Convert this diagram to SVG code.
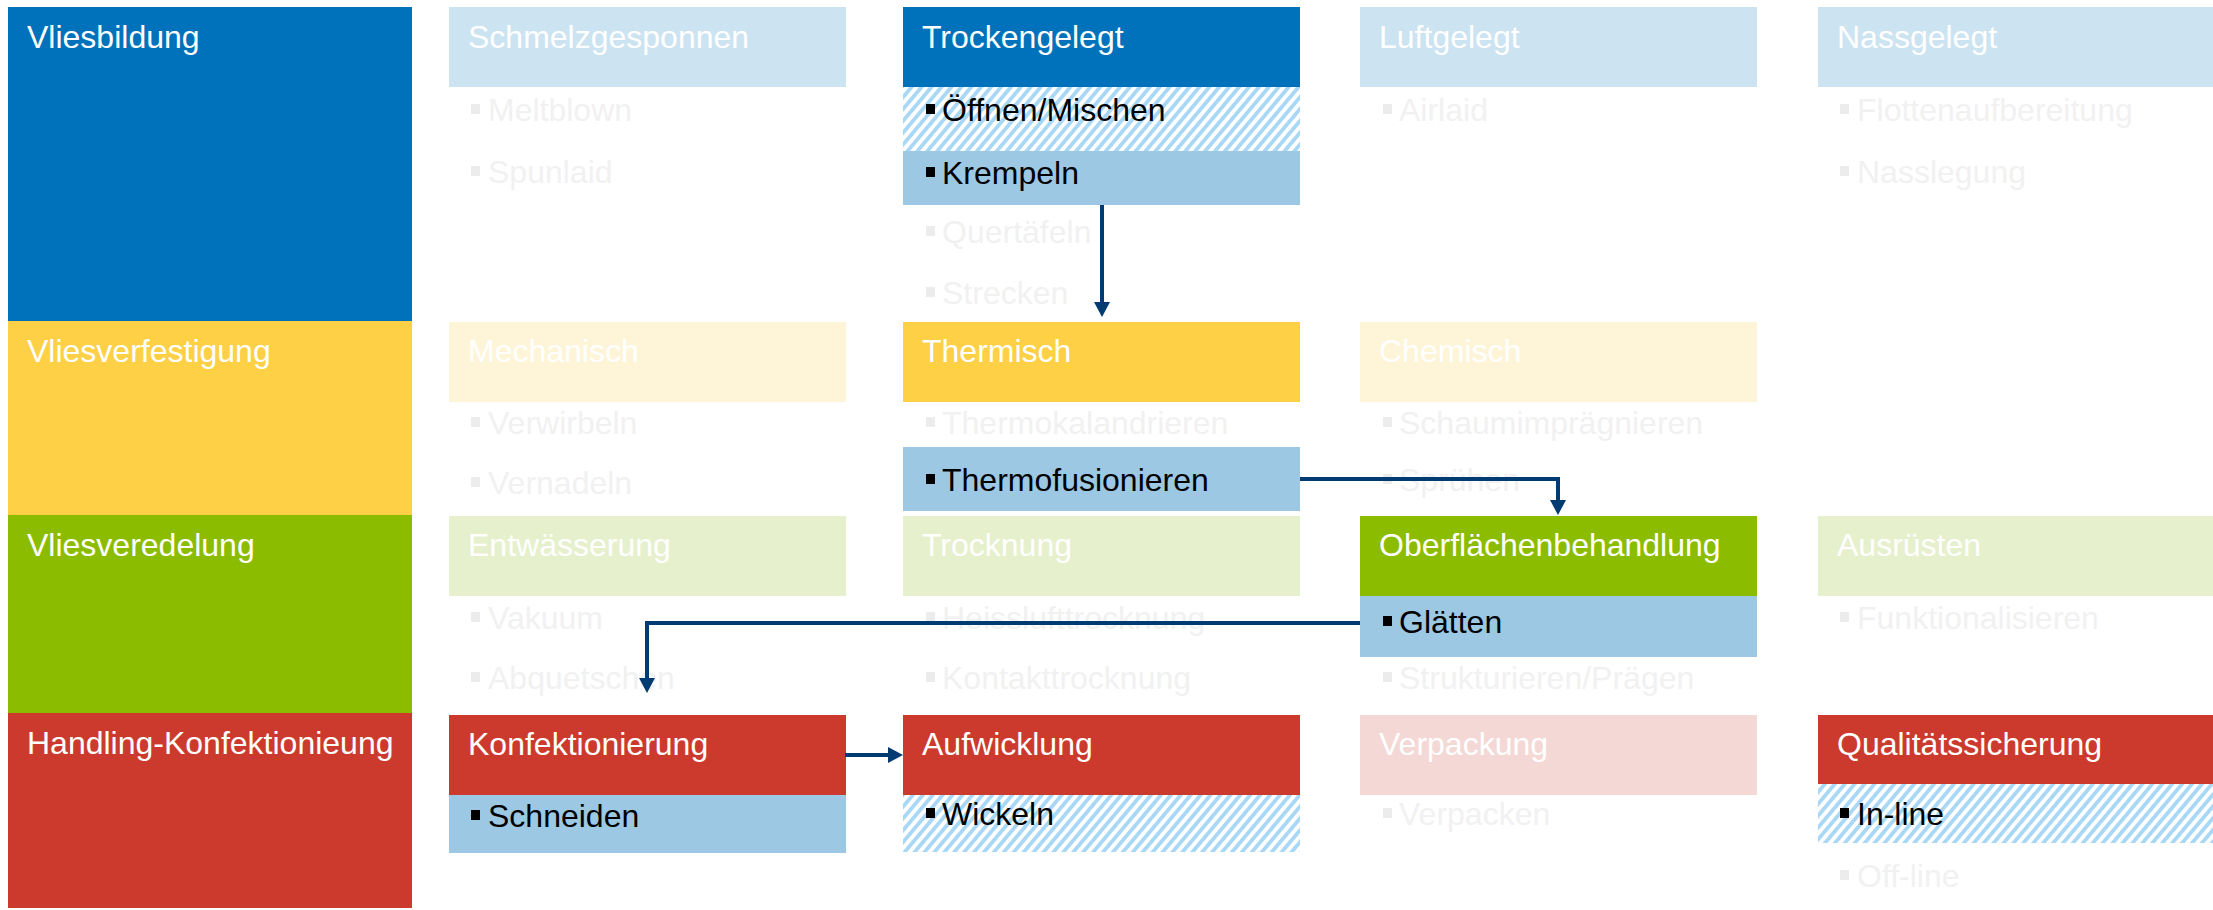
<svg xmlns="http://www.w3.org/2000/svg" width="2213" height="910" viewBox="0 0 2213 910">
<style>
text{font-family:"Liberation Sans",Arial,sans-serif;font-size:32px}
.hw{fill:#ffffff}
.act{fill:#000000}
.fd{fill:#f1f1f1}
.bk{fill:#000000}
.bf{fill:#ececec}
.blue{fill:#0072BB}
.lblue{fill:#CCE3F1}
.yel{fill:#FED045}
.lyel{fill:#FEF5D9}
.grn{fill:#8CBC00}
.lgrn{fill:#E6F0CD}
.red{fill:#CC3A2E}
.lred{fill:#F4D8D5}
.sel{fill:#9CC8E4}
.hat{fill:url(#hatch)}
.con{fill:none;stroke:#003C71;stroke-width:4}
</style>
<defs>
<pattern id="hatch" patternUnits="userSpaceOnUse" width="7.6" height="7.6" patternTransform="rotate(40)">
<rect width="7.6" height="7.6" fill="#ffffff"/>
<rect width="3.8" height="7.6" fill="#A8D8F6"/>
</pattern>
<marker id="ah" markerUnits="userSpaceOnUse" markerWidth="16" markerHeight="16" refX="3" refY="8" orient="auto">
<path d="M0,0 L15,8 L0,16 z" fill="#003C71"/>
</marker>
</defs>
<rect width="2213" height="910" fill="#ffffff"/>

<!-- Row labels -->
<g id="row-vliesbildung"><rect class="blue" x="8" y="7" width="404" height="314"/><text class="hw" x="27" y="48">Vliesbildung</text></g>
<g id="row-vliesverfestigung"><rect class="yel" x="8" y="321" width="404" height="194"/><text class="hw" x="27" y="362">Vliesverfestigung</text></g>
<g id="row-vliesveredelung"><rect class="grn" x="8" y="515" width="404" height="198"/><text class="hw" x="27" y="556">Vliesveredelung</text></g>
<g id="row-handling"><rect class="red" x="8" y="713" width="404" height="195"/><text class="hw" x="27" y="754">Handling-Konfektionieung</text></g>

<!-- Row 1 -->
<g id="schmelzgesponnen"><rect class="lblue" x="449" y="7" width="397" height="80"/><text class="hw" x="468" y="48">Schmelzgesponnen</text>
<rect class="bf" x="471" y="104" width="9" height="10"/><text class="fd" x="488" y="121">Meltblown</text>
<rect class="bf" x="471" y="166" width="9" height="10"/><text class="fd" x="488" y="183">Spunlaid</text></g>
<g id="trockengelegt"><rect class="blue" x="903" y="7" width="397" height="80"/><text class="hw" x="922" y="48">Trockengelegt</text>
<rect class="hat" x="903" y="87" width="397" height="64"/><rect class="bk" x="926" y="104" width="9" height="10"/><text class="act" x="942" y="121">Öffnen/Mischen</text>
<rect class="sel" x="903" y="151" width="397" height="54"/><rect class="bk" x="926" y="167" width="9" height="10"/><text class="act" x="942" y="184">Krempeln</text>
<rect class="bf" x="926" y="226" width="9" height="10"/><text class="fd" x="942" y="243">Quertäfeln</text>
<rect class="bf" x="926" y="287" width="9" height="10"/><text class="fd" x="942" y="304">Strecken</text></g>
<g id="luftgelegt"><rect class="lblue" x="1360" y="7" width="397" height="80"/><text class="hw" x="1379" y="48">Luftgelegt</text>
<rect class="bf" x="1383" y="104" width="9" height="10"/><text class="fd" x="1399" y="121">Airlaid</text></g>
<g id="nassgelegt"><rect class="lblue" x="1818" y="7" width="397" height="80"/><text class="hw" x="1837" y="48">Nassgelegt</text>
<rect class="bf" x="1840" y="104" width="9" height="10"/><text class="fd" x="1857" y="121">Flottenaufbereitung</text>
<rect class="bf" x="1840" y="166" width="9" height="10"/><text class="fd" x="1857" y="183">Nasslegung</text></g>

<!-- Row 2 -->
<g id="mechanisch"><rect class="lyel" x="449" y="322" width="397" height="80"/><text class="hw" x="468" y="362">Mechanisch</text>
<rect class="bf" x="471" y="417" width="9" height="10"/><text class="fd" x="488" y="434">Verwirbeln</text>
<rect class="bf" x="471" y="477" width="9" height="10"/><text class="fd" x="488" y="494">Vernadeln</text></g>
<g id="thermisch"><rect class="yel" x="903" y="322" width="397" height="80"/><text class="hw" x="922" y="362">Thermisch</text>
<rect class="bf" x="926" y="417" width="9" height="10"/><text class="fd" x="942" y="434">Thermokalandrieren</text>
<rect class="sel" x="903" y="447" width="397" height="64"/><rect class="bk" x="926" y="474" width="9" height="10"/><text class="act" x="942" y="491">Thermofusionieren</text></g>
<g id="chemisch"><rect class="lyel" x="1360" y="322" width="397" height="80"/><text class="hw" x="1379" y="362">Chemisch</text>
<rect class="bf" x="1383" y="417" width="9" height="10"/><text class="fd" x="1399" y="434">Schaumimprägnieren</text>
<rect class="bf" x="1383" y="474" width="9" height="10"/><text class="fd" x="1399" y="491">Sprühen</text></g>

<!-- Row 3 -->
<g id="entwaesserung"><rect class="lgrn" x="449" y="516" width="397" height="80"/><text class="hw" x="468" y="556">Entwässerung</text>
<rect class="bf" x="471" y="612" width="9" height="10"/><text class="fd" x="488" y="629">Vakuum</text>
<rect class="bf" x="471" y="672" width="9" height="10"/><text class="fd" x="488" y="689">Abquetschen</text></g>
<g id="trocknung"><rect class="lgrn" x="903" y="516" width="397" height="80"/><text class="hw" x="922" y="556">Trocknung</text>
<rect class="bf" x="926" y="612" width="9" height="10"/><text class="fd" x="942" y="629">Heisslufttrocknung</text>
<rect class="bf" x="926" y="672" width="9" height="10"/><text class="fd" x="942" y="689">Kontakttrocknung</text></g>
<g id="oberflaechenbehandlung"><rect class="grn" x="1360" y="516" width="397" height="80"/><text class="hw" x="1379" y="556">Oberflächenbehandlung</text>
<rect class="sel" x="1360" y="596" width="397" height="61"/><rect class="bk" x="1383" y="616" width="9" height="10"/><text class="act" x="1399" y="633">Glätten</text>
<rect class="bf" x="1383" y="672" width="9" height="10"/><text class="fd" x="1399" y="689">Strukturieren/Prägen</text></g>
<g id="ausruesten"><rect class="lgrn" x="1818" y="516" width="397" height="80"/><text class="hw" x="1837" y="556">Ausrüsten</text>
<rect class="bf" x="1840" y="612" width="9" height="10"/><text class="fd" x="1857" y="629">Funktionalisieren</text></g>

<!-- Row 4 -->
<g id="konfektionierung"><rect class="red" x="449" y="715" width="397" height="80"/><text class="hw" x="468" y="755">Konfektionierung</text>
<rect class="sel" x="449" y="795" width="397" height="58"/><rect class="bk" x="471" y="810" width="9" height="10"/><text class="act" x="488" y="827">Schneiden</text></g>
<g id="aufwicklung"><rect class="red" x="903" y="715" width="397" height="80"/><text class="hw" x="922" y="755">Aufwicklung</text>
<rect class="hat" x="903" y="795" width="397" height="57"/><rect class="bk" x="926" y="808" width="9" height="10"/><text class="act" x="942" y="825">Wickeln</text></g>
<g id="verpackung"><rect class="lred" x="1360" y="715" width="397" height="80"/><text class="hw" x="1379" y="755">Verpackung</text>
<rect class="bf" x="1383" y="808" width="9" height="10"/><text class="fd" x="1399" y="825">Verpacken</text></g>
<g id="qualitaetssicherung"><rect class="red" x="1818" y="715" width="397" height="69"/><text class="hw" x="1837" y="755">Qualitätssicherung</text>
<rect class="hat" x="1818" y="784" width="397" height="59"/><rect class="bk" x="1840" y="808" width="9" height="10"/><text class="act" x="1857" y="825">In-line</text>
<rect class="bf" x="1840" y="870" width="9" height="10"/><text class="fd" x="1857" y="887">Off-line</text></g>

<!-- Connectors -->
<g id="connectors">
<path class="con" d="M1102,205 V305" marker-end="url(#ah)"/>
<path class="con" d="M1300,479 H1558 V503" marker-end="url(#ah)"/>
<path class="con" d="M1360,623 H647 V681" marker-end="url(#ah)"/>
<path class="con" d="M845,755 H891" marker-end="url(#ah)"/>
</g>
</svg>
